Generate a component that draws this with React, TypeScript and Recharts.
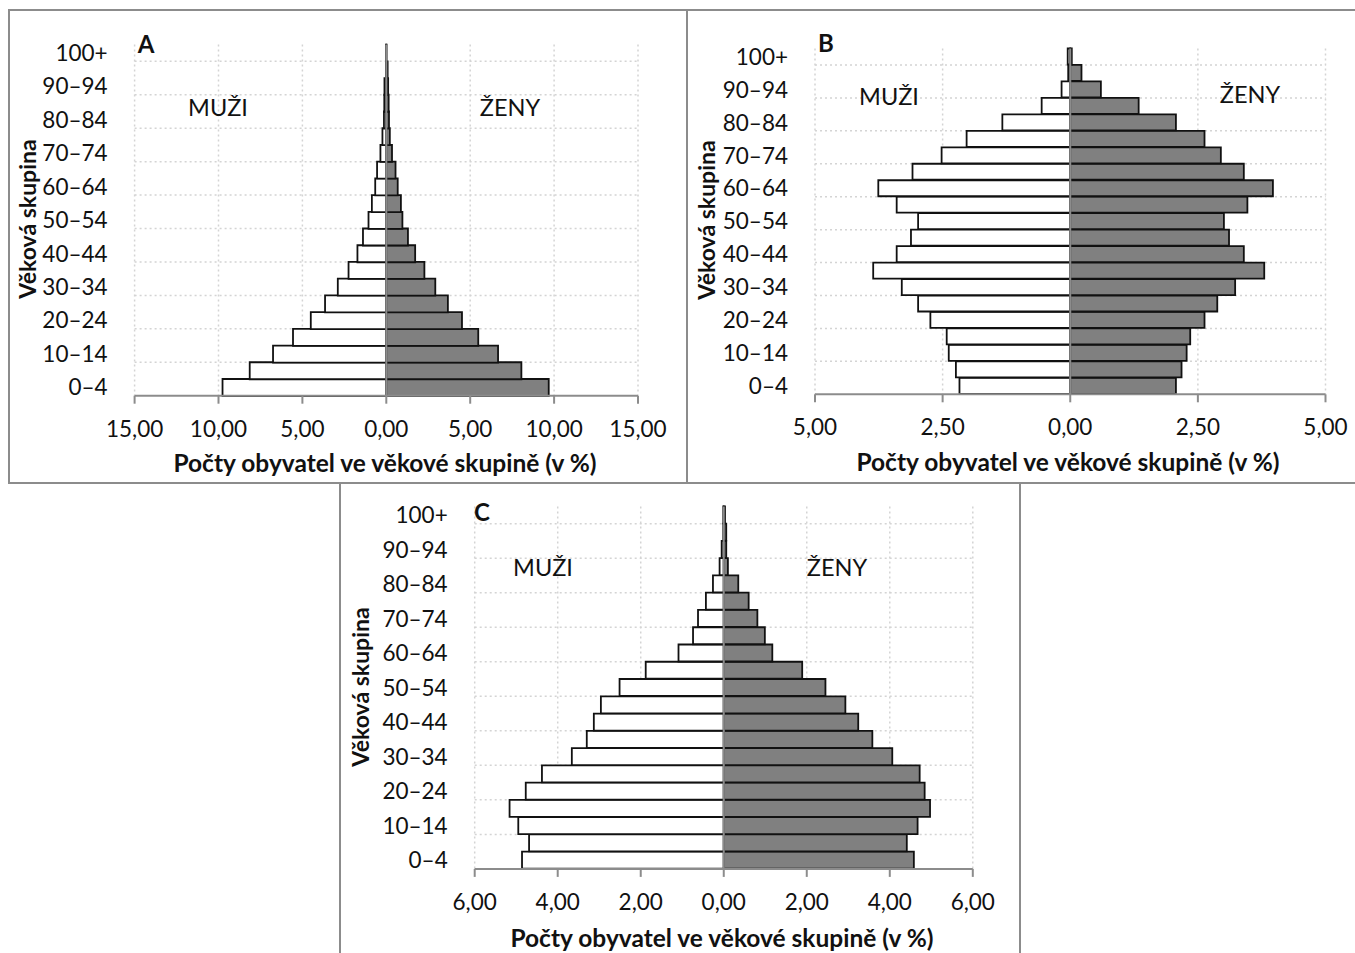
import React from 'react';
import {
  BarChart,
  Bar,
  XAxis,
  YAxis,
  CartesianGrid,
  ReferenceLine,
} from 'recharts';

// age groups from youngest to oldest
const ageGroups = [
  '0–4', '5–9', '10–14', '15–19', '20–24', '25–29', '30–34', '35–39', '40–44', '45–49',
  '50–54', '55–59', '60–64', '65–69', '70–74', '75–79', '80–84', '85–89', '90–94', '95–99', '100+',
];

// A
const maleA = [9.76, 8.14, 6.75, 5.56, 4.5, 3.65, 2.89, 2.25, 1.72, 1.39, 1.06, 0.86, 0.66, 0.55, 0.35, 0.23, 0.14, 0.12, 0.11, 0.02, 0.01];
const femaleA = [9.68, 8.05, 6.66, 5.48, 4.51, 3.67, 2.92, 2.27, 1.72, 1.29, 0.96, 0.87, 0.68, 0.55, 0.34, 0.21, 0.16, 0.14, 0.11, 0.08, 0.01];
const ticksA = [-15, -10, -5, 0, 5, 10, 15];

// B
const maleB = [2.17, 2.24, 2.38, 2.42, 2.74, 2.98, 3.3, 3.86, 3.4, 3.12, 2.98, 3.4, 3.76, 3.09, 2.52, 2.03, 1.33, 0.56, 0.17, 0.04, 0.05];
const femaleB = [2.07, 2.18, 2.28, 2.35, 2.63, 2.88, 3.23, 3.8, 3.4, 3.11, 3.01, 3.47, 3.97, 3.4, 2.95, 2.63, 2.07, 1.34, 0.6, 0.22, 0.03];
const ticksB = [-5, -2.5, 0, 2.5, 5];

// C
const maleC = [4.86, 4.69, 4.95, 5.16, 4.77, 4.38, 3.66, 3.3, 3.13, 2.96, 2.51, 1.88, 1.09, 0.74, 0.62, 0.43, 0.26, 0.1, 0.05, 0.01, 0.01];
const femaleC = [4.58, 4.41, 4.67, 4.97, 4.84, 4.72, 4.06, 3.58, 3.24, 2.93, 2.45, 1.89, 1.17, 0.99, 0.81, 0.6, 0.35, 0.1, 0.06, 0.06, 0.03];
const ticksC = [-6, -4, -2, 0, 2, 4, 6];

const FONT = 'Lato, "Open Sans", sans-serif';
const FRAME = '#8c8c8c';

const fmt = (v: number) => Math.abs(v).toFixed(2).replace('.', ',');

function buildRows(male: number[], female: number[]) {
  return ageGroups.map((age, i) => ({ age, male: -male[i], female: female[i] }));
}

// dotted lines at every second row boundary
const rowLines = ({ offset }: any) => {
  const h = offset.height / ageGroups.length;
  const out: number[] = [];
  for (let k = 1; k < ageGroups.length; k += 2) out.push(offset.top + k * h);
  return out;
};

interface PanelProps {
  left: number;
  top: number;
  width: number;
  height: number;
  margin: { top: number; right: number; bottom: number; left: number };
  male: number[];
  female: number[];
  ticks: number[];
}

function Pyramid({ left, top, width, height, margin, male, female, ticks }: PanelProps) {
  const data = buildRows(male, female);
  const lim = ticks[ticks.length - 1];
  return (
    <div style={{ position: 'absolute', left, top }}>
      <BarChart
        width={width}
        height={height}
        data={data}
        layout="vertical"
        stackOffset="sign"
        barCategoryGap={0}
        margin={margin}
      >
        <CartesianGrid
          stroke="#d4d4d4"
          strokeWidth={1.5}
          strokeDasharray="2 3"
          horizontalCoordinatesGenerator={rowLines}
        />
        <XAxis
          type="number"
          domain={[-lim, lim]}
          ticks={ticks}
          allowDataOverflow
          tickFormatter={fmt}
          height={40}
          tickSize={8}
          tickMargin={17}
          axisLine={{ stroke: FRAME, strokeWidth: 2 }}
          tickLine={{ stroke: FRAME, strokeWidth: 2 }}
          tick={{ fontSize: 22.5, fill: '#111', fontFamily: FONT }}
        />
        <YAxis
          type="category"
          dataKey="age"
          reversed
          interval={1}
          width={80}
          tickSize={0}
          tickMargin={27}
          axisLine={false}
          tickLine={false}
          tick={{ fontSize: 22.5, fill: '#111', fontFamily: FONT }}
        />
        <Bar dataKey="male" stackId="p" fill="#ffffff" stroke="#111" strokeWidth={1.8} isAnimationActive={false} />
        <Bar dataKey="female" stackId="p" fill="#808080" stroke="#111" strokeWidth={1.8} isAnimationActive={false} />
        <ReferenceLine x={0} stroke={FRAME} strokeWidth={2} />
      </BarChart>
    </div>
  );
}

function Txt({ x, y, text, size, bold, rotate }: { x: number; y: number; text: string; size: number; bold?: boolean; rotate?: boolean }) {
  return (
    <div
      style={{
        position: 'absolute',
        left: x,
        top: y,
        transform: `translate(-50%, -50%)${rotate ? ' rotate(-90deg)' : ''}`,
        fontFamily: FONT,
        fontSize: size,
        fontWeight: bold ? 700 : 400,
        color: '#111',
        whiteSpace: 'nowrap',
        lineHeight: 1,
      }}
    >
      {text}
    </div>
  );
}

const xTitle = 'Počty obyvatel ve věkové skupině (v %)';
const yTitle = 'Věková skupina';

export default function App() {
  return (
    <div style={{ position: 'absolute', left: 0, top: 0, width: 1355, height: 953, overflow: 'hidden', background: '#fff' }}>
      {/* frames */}
      <div style={{ position: 'absolute', left: 8, top: 9, width: 680, height: 475, border: `2px solid ${FRAME}`, boxSizing: 'border-box' }} />
      <div style={{ position: 'absolute', left: 686, top: 9, width: 680, height: 475, border: `2px solid ${FRAME}`, boxSizing: 'border-box' }} />
      <div style={{ position: 'absolute', left: 339, top: 482, width: 682, height: 490, border: `2px solid ${FRAME}`, boxSizing: 'border-box' }} />

      <Pyramid
        left={9}
        top={10}
        width={678}
        height={473}
        margin={{ top: 34.6, right: 49, bottom: 47.3, left: 45.6 }}
        male={maleA}
        female={femaleA}
        ticks={ticksA}
      />
      <Pyramid
        left={687}
        top={10}
        width={668}
        height={473}
        margin={{ top: 38.5, right: 29.5, bottom: 48.7, left: 48 }}
        male={maleB}
        female={femaleB}
        ticks={ticksB}
      />
      <Pyramid
        left={340}
        top={483}
        width={680}
        height={470}
        margin={{ top: 23.4, right: 47.2, bottom: 44.1, left: 54.7 }}
        male={maleC}
        female={femaleC}
        ticks={ticksC}
      />

      {/* panel A labels */}
      <Txt x={146} y={44} text="A" size={24} bold />
      <Txt x={218} y={108} text="MUŽI" size={23.5} />
      <Txt x={510} y={108} text="ŽENY" size={23.5} />
      <Txt x={27} y={219} text={yTitle} size={23} bold rotate />
      <Txt x={385} y={463} text={xTitle} size={24.5} bold />

      {/* panel B labels */}
      <Txt x={826} y={43} text="B" size={24} bold />
      <Txt x={889} y={97} text="MUŽI" size={23.5} />
      <Txt x={1250} y={95} text="ŽENY" size={23.5} />
      <Txt x={706} y={220} text={yTitle} size={23} bold rotate />
      <Txt x={1068} y={462} text={xTitle} size={24.5} bold />

      {/* panel C labels */}
      <Txt x={482} y={512} text="C" size={24} bold />
      <Txt x={543} y={568} text="MUŽI" size={23.5} />
      <Txt x={837} y={568} text="ŽENY" size={23.5} />
      <Txt x={360} y={687} text={yTitle} size={23} bold rotate />
      <Txt x={722} y={938} text={xTitle} size={24.5} bold />
    </div>
  );
}
